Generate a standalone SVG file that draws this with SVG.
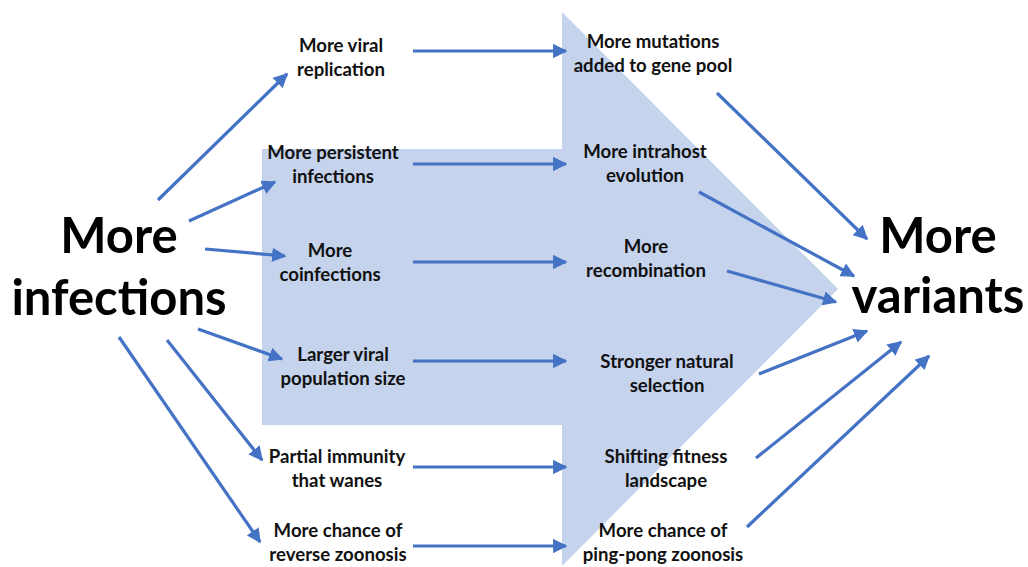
<svg xmlns="http://www.w3.org/2000/svg" width="1028" height="567" viewBox="0 0 1028 567">
<defs>
<style>
.s{font-family:Lato,"Liberation Sans",sans-serif;font-weight:bold;font-size:18.6px;fill:#111;text-anchor:middle}
.b{font-family:Lato,"Liberation Sans",sans-serif;font-weight:bold;font-size:49px;fill:#000;text-anchor:middle}
.c{stroke:#4472c4;stroke-width:3.2;fill:none;marker-end:url(#ah)}
</style>
<marker id="ah" viewBox="0 0 10 10" refX="9" refY="5" markerWidth="4.5" markerHeight="4.5" orient="auto" markerUnits="strokeWidth">
<path d="M0,0 L10,5 L0,10 z" fill="#4472c4"/>
</marker>
</defs>
<rect width="1028" height="567" fill="#fff"/>
<path id="bigarrow" d="M262,149 H562 V12 L838,289 L562,566 V425 H262 z" fill="#c5d3ec"/>
<g id="connectors">
<line class="c" x1="158" y1="200" x2="287" y2="74"/>
<line class="c" x1="189" y1="221" x2="275" y2="182"/>
<line class="c" x1="205" y1="249" x2="285" y2="256"/>
<line class="c" x1="198" y1="329" x2="282" y2="359"/>
<line class="c" x1="167" y1="340" x2="262" y2="460"/>
<line class="c" x1="119" y1="337" x2="260" y2="542"/>
<line class="c" x1="413" y1="51" x2="566" y2="51"/>
<line class="c" x1="413" y1="164" x2="566" y2="164"/>
<line class="c" x1="413" y1="262" x2="566" y2="262"/>
<line class="c" x1="413" y1="361" x2="566" y2="361"/>
<line class="c" x1="413" y1="467" x2="566" y2="467"/>
<line class="c" x1="413" y1="546" x2="566" y2="546"/>
<line class="c" x1="717" y1="93" x2="867" y2="239"/>
<line class="c" x1="699" y1="192" x2="854" y2="276"/>
<line class="c" x1="727" y1="271" x2="836" y2="302"/>
<line class="c" x1="759" y1="374" x2="867" y2="331"/>
<line class="c" x1="756" y1="458" x2="901" y2="342"/>
<line class="c" x1="747" y1="527" x2="929" y2="356"/>
</g>
<g id="more-infections"><text class="b" x="119" y="253">More</text><text class="b" x="119" y="315">infections</text></g>
<g id="more-variants"><text class="b" x="938" y="253">More</text><text class="b" x="938" y="313">variants</text></g>
<g id="viral-replication"><text class="s" x="341" y="52">More viral</text><text class="s" x="341" y="76">replication</text></g>
<g id="persistent-infections"><text class="s" x="333" y="159">More persistent</text><text class="s" x="333" y="183">infections</text></g>
<g id="coinfections"><text class="s" x="330" y="257">More</text><text class="s" x="330" y="281">coinfections</text></g>
<g id="population-size"><text class="s" x="343" y="361">Larger viral</text><text class="s" x="343" y="385">population size</text></g>
<g id="partial-immunity"><text class="s" x="337" y="463">Partial immunity</text><text class="s" x="337" y="487">that wanes</text></g>
<g id="reverse-zoonosis"><text class="s" x="338" y="537">More chance of</text><text class="s" x="338" y="561">reverse zoonosis</text></g>
<g id="mutations"><text class="s" x="653" y="48">More mutations</text><text class="s" x="653" y="72">added to gene pool</text></g>
<g id="intrahost"><text class="s" x="645" y="158">More intrahost</text><text class="s" x="645" y="182">evolution</text></g>
<g id="recombination"><text class="s" x="646" y="253">More</text><text class="s" x="646" y="277">recombination</text></g>
<g id="selection"><text class="s" x="667" y="368">Stronger natural</text><text class="s" x="667" y="392">selection</text></g>
<g id="fitness"><text class="s" x="666" y="463">Shifting fitness</text><text class="s" x="666" y="487">landscape</text></g>
<g id="pingpong"><text class="s" x="663" y="537">More chance of</text><text class="s" x="663" y="561">ping-pong zoonosis</text></g>
</svg>
